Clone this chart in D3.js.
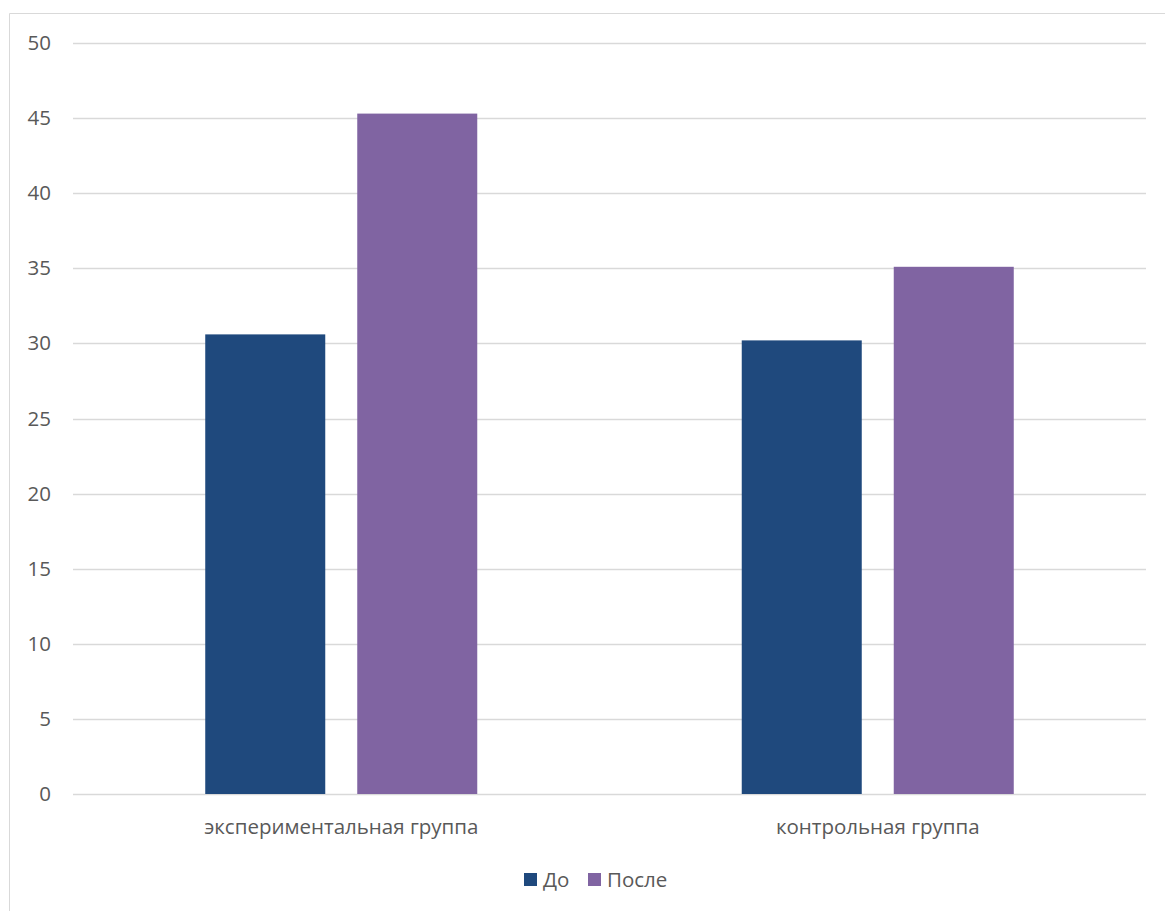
<!DOCTYPE html>
<html>
<head>
<meta charset="utf-8">
<script src="https://cdn.jsdelivr.net/npm/d3@7"></script>
<style>
  html, body { margin: 0; padding: 0; background: #fff; }
  svg { display: block; }
  text { font-family: "Open Sans", "Noto Sans", sans-serif; fill: #595959; }
</style>
</head>
<body>
<svg id="chart" width="1165" height="911"></svg>
<script>
// Group categories, series names and values
const categories = ["экспериментальная группа", "контрольная группа"];
const seriesNames = ["До", "После"];
const beforeValues = [30.6, 30.2];
const afterValues = [45.3, 35.1];
const yTicks = [0, 5, 10, 15, 20, 25, 30, 35, 40, 45, 50];
const seriesColors = ["#1f497d", "#8064a2"];

const svg = d3.select("#chart");
const W = 1165, H = 911;
const FONT = "'Open Sans', 'Noto Sans', sans-serif";
const FS = 20.5;

// outer chart frame (left and top edges)
svg.append("path")
  .attr("d", `M9.5,${H} V13.5 H${W}`)
  .attr("fill", "none")
  .attr("stroke", "#d9d9d9")
  .attr("stroke-width", 1);

const plot = { left: 73, right: 1146, top: 43, bottom: 794 };

const y = d3.scaleLinear().domain([0, 50]).range([plot.bottom, plot.top]);
const x0 = d3.scaleBand().domain(categories).range([plot.left, plot.right]).padding(0);
const x1 = d3.scaleBand().domain(seriesNames).range([0, x0.bandwidth()])
  .paddingInner(0.2105).paddingOuter(0.87);

// gridlines
svg.append("g")
  .selectAll("line")
  .data(yTicks)
  .join("line")
  .attr("x1", plot.left).attr("x2", plot.right)
  .attr("y1", d => Math.round(y(d)) + 0.5)
  .attr("y2", d => Math.round(y(d)) + 0.5)
  .attr("stroke", "#d9d9d9")
  .attr("stroke-width", 1.3);

// y axis labels
const yAxis = d3.axisLeft(y).tickValues(yTicks).tickSize(0).tickPadding(0);
svg.append("g")
  .attr("transform", `translate(51,0)`)
  .call(yAxis)
  .call(g => g.select(".domain").remove())
  .call(g => g.selectAll("text")
    .attr("font-size", FS)
    .attr("font-family", FONT)
    .attr("fill", "#595959"));

// bars
const rows = categories.map((c, i) => ({ cat: c, vals: [beforeValues[i], afterValues[i]] }));
svg.append("g")
  .selectAll("g")
  .data(rows)
  .join("g")
  .attr("transform", d => `translate(${x0(d.cat)},0)`)
  .selectAll("rect")
  .data(d => d.vals.map((v, j) => ({ s: seriesNames[j], v, j })))
  .join("rect")
  .attr("x", d => x1(d.s))
  .attr("width", x1.bandwidth())
  .attr("y", d => y(d.v))
  .attr("height", d => y(0) - y(d.v))
  .attr("fill", d => seriesColors[d.j]);

// category labels
const xAxis = d3.axisBottom(x0).tickSize(0).tickPadding(0);
svg.append("g")
  .attr("transform", `translate(0,${plot.bottom + 40})`)
  .call(xAxis)
  .call(g => g.select(".domain").remove())
  .call(g => g.selectAll("text")
    .attr("dy", 0)
    .attr("font-size", FS)
    .attr("font-family", FONT)
    .attr("fill", "#595959"));

// legend
const legendItems = [
  { name: seriesNames[0], color: seriesColors[0], x: 524 },
  { name: seriesNames[1], color: seriesColors[1], x: 588 }
];
const legend = svg.append("g");
const li = legend.selectAll("g").data(legendItems).join("g")
  .attr("transform", d => `translate(${d.x},0)`);
li.append("rect")
  .attr("x", 0).attr("y", 873).attr("width", 13).attr("height", 13)
  .attr("fill", d => d.color);
li.append("text")
  .attr("x", 19).attr("y", 887)
  .attr("font-size", FS)
  .text(d => d.name);
</script>
</body>
</html>
